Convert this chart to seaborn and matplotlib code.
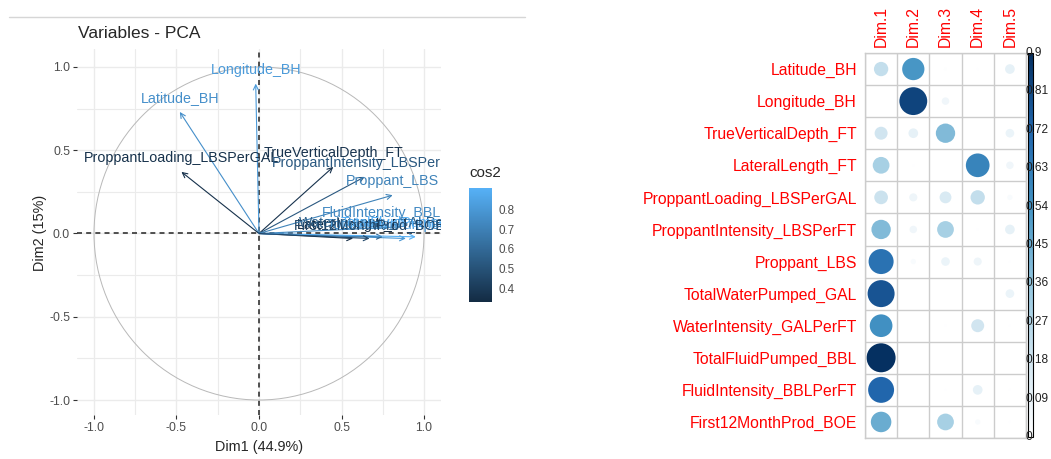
import numpy as np
import pandas as pd
import matplotlib
matplotlib.use("Agg")
import matplotlib.pyplot as plt
import seaborn as sns
from matplotlib.colors import LinearSegmentedColormap, Normalize
from matplotlib.lines import Line2D
from matplotlib.patches import Circle

# variables of the PCA
variables = ["Latitude_BH", "Longitude_BH", "TrueVerticalDepth_FT", "LateralLength_FT",
             "ProppantLoading_LBSPerGAL", "ProppantIntensity_LBSPerFT", "Proppant_LBS",
             "TotalWaterPumped_GAL", "WaterIntensity_GALPerFT", "TotalFluidPumped_BBL",
             "FluidIntensity_BBLPerFT", "First12MonthProd_BOE"]

# coordinates on Dim1 / Dim2 (correlation circle)
dim1_coord = [-0.48, -0.02, 0.45, 0.57, -0.47, 0.64, 0.81, 0.89, 0.75, 0.95, 0.86, 0.67]
dim2_coord = [0.73, 0.90, 0.40, -0.03, 0.37, 0.34, 0.23, -0.03, -0.02, -0.02, 0.04, -0.03]

# cos2 of each variable on the first five dimensions
dims = ["Dim.1", "Dim.2", "Dim.3", "Dim.4", "Dim.5"]
cos2_dim1 = [0.22, 0.00, 0.18, 0.30, 0.20, 0.40, 0.67, 0.78, 0.55, 0.90, 0.72, 0.45]
cos2_dim2 = [0.53, 0.83, 0.10, 0.005, 0.07, 0.06, 0.03, 0.003, 0.003, 0.002, 0.002, 0.002]
cos2_dim3 = [0.01, 0.06, 0.40, 0.0, 0.15, 0.30, 0.08, 0.003, 0.005, 0.002, 0.004, 0.30]
cos2_dim4 = [0.005, 0.003, 0.0, 0.60, 0.22, 0.005, 0.07, 0.0, 0.18, 0.002, 0.10, 0.03]
cos2_dim5 = [0.10, 0.003, 0.08, 0.06, 0.03, 0.10, 0.005, 0.08, 0.005, 0.002, 0.005, 0.005]

cbar_ticks = [0, 0.09, 0.18, 0.27, 0.36, 0.45, 0.54, 0.63, 0.72, 0.81, 0.9]

sns.set_style("white")
plt.rcParams['font.family'] = ['Liberation Sans', 'DejaVu Sans']

W, H = 1051, 459
fig = plt.figure(figsize=(W / 100, H / 100), dpi=100)
fig.patch.set_facecolor("white")

# thin grey rule at the top of the left half
fig.add_artist(Line2D([9 / W, 525 / W], [1 - 17 / H, 1 - 17 / H], color="#d6d6d6", lw=1))

# ---------------- left: correlation circle ----------------
pca_cmap = LinearSegmentedColormap.from_list("gg", ["#132B43", "#56B1F7"])
pc_df = pd.DataFrame({"variable": variables, "Dim1": dim1_coord, "Dim2": dim2_coord})
pc_df["cos2"] = pc_df["Dim1"] ** 2 + pc_df["Dim2"] ** 2
pca_norm = Normalize(0.33, 0.91)

axl = fig.add_axes([77 / W, (H - 415) / H, 364 / W, 366 / H])
axl.set_xlim(-1.103, 1.103)
axl.set_ylim(-1.09, 1.108)
axl.set_xticks([-1, -0.5, 0, 0.5, 1])
axl.set_yticks([-1, -0.5, 0, 0.5, 1])
axl.set_xticks([-0.75, -0.25, 0.25, 0.75], minor=True)
axl.set_yticks([-0.75, -0.25, 0.25, 0.75], minor=True)
axl.set_xticklabels(["-1.0", "-0.5", "0.0", "0.5", "1.0"])
axl.set_yticklabels(["-1.0", "-0.5", "0.0", "0.5", "1.0"])
axl.grid(which="major", color="#ebebeb", lw=1.0)
axl.grid(which="minor", color="#ebebeb", lw=0.8)
axl.set_axisbelow(True)
for s in axl.spines.values():
    s.set_visible(False)
axl.tick_params(which="major", length=3, width=0.8, color="#333333", pad=2,
                labelsize=8.8, labelcolor="#4d4d4d", bottom=True, left=True)
axl.tick_params(which="minor", length=0)

axl.add_patch(Circle((0, 0), 1, fill=False, color="#b8b8b8", lw=0.7))

for _, r in pc_df.iterrows():
    c = pca_cmap(pca_norm(r["cos2"]))
    axl.annotate("", xy=(r["Dim1"], r["Dim2"]), xytext=(0, 0),
                 arrowprops=dict(arrowstyle="->", color=c, lw=0.8, shrinkA=0, shrinkB=0,
                                 mutation_scale=9))
    axl.annotate(r["variable"], xy=(r["Dim1"], r["Dim2"]), xytext=(0, 10),
                 textcoords="offset points", ha="center", va="center", color=c,
                 fontsize=10.3, clip_on=True)

axl.axhline(0, color="#333333", lw=1.2, ls=(0, (3, 2.5)))
axl.axvline(0, color="#333333", lw=1.2, ls=(0, (3, 2.5)))

fig.text(78 / W, 1 - 33 / H, "Variables - PCA", fontsize=12.5, va="center", ha="left")
fig.text(259 / W, 1 - 447 / H, "Dim1 (44.9%)", fontsize=10.4, va="center", ha="center")
fig.text(40 / W, 1 - 233 / H, "Dim2 (15%)", fontsize=10.4, va="center", ha="center",
         rotation=90)

# legend for cos2
fig.text(469 / W, 1 - 173 / H, "cos2", fontsize=10.9, va="center", ha="left")
cax = fig.add_axes([469 / W, (H - 302) / H, 23 / W, 114 / H])
sm = plt.cm.ScalarMappable(norm=pca_norm, cmap=pca_cmap)
cb = fig.colorbar(sm, cax=cax, ticks=[0.4, 0.5, 0.6, 0.7, 0.8])
cb.outline.set_visible(False)
cax.tick_params(direction="in", color="white", length=4, width=0.8, left=True, right=True,
                labelsize=8.4, labelcolor="#4d4d4d", pad=5)

# ---------------- right: cos2 corrplot ----------------
corr_cmap = LinearSegmentedColormap.from_list(
    "rdbu_half", ["#FFFFFF", "#D1E5F0", "#92C5DE", "#4393C3", "#2166AC", "#053061"])

cos2_df = pd.DataFrame({"variable": variables, "Dim.1": cos2_dim1, "Dim.2": cos2_dim2,
                        "Dim.3": cos2_dim3, "Dim.4": cos2_dim4, "Dim.5": cos2_dim5})
long_df = cos2_df.melt(id_vars="variable", var_name="dim", value_name="cos2")

axr = fig.add_axes([865 / W, (H - 438) / H, 161 / W, 385 / H])
sns.scatterplot(data=long_df, x="dim", y="variable", hue="cos2", size="cos2",
                palette=corr_cmap, hue_norm=(0, 0.9), sizes=(0, 436), size_norm=(0, 0.9),
                linewidth=0, legend=False, ax=axr)
axr.set_xlim(-0.5, len(dims) - 0.5)
axr.set_ylim(len(variables) - 0.5, -0.5)
axr.set_xlabel("")
axr.set_ylabel("")
axr.set_xticks(np.arange(len(dims) + 1) - 0.5, minor=True)
axr.set_yticks(np.arange(len(variables) + 1) - 0.5, minor=True)
axr.grid(which="minor", color="#cccccc", lw=1.0)
axr.grid(which="major", visible=False)
for s in axr.spines.values():
    s.set_color("#cccccc")
    s.set_linewidth(1.0)
axr.xaxis.tick_top()
axr.tick_params(axis="x", which="major", length=0, pad=4.3, labelsize=11.3,
                labelcolor="red", labelrotation=90)
axr.tick_params(axis="y", which="major", length=0, pad=5.8, labelsize=11.3, labelcolor="red")
axr.tick_params(which="minor", length=0)

cax2 = fig.add_axes([1028 / W, (H - 437) / H, 5 / W, 384 / H])
sm2 = plt.cm.ScalarMappable(norm=Normalize(0, 0.9), cmap=corr_cmap)
cb2 = fig.colorbar(sm2, cax=cax2, ticks=cbar_ticks)
cb2.outline.set_edgecolor("black")
cb2.outline.set_linewidth(0.8)
cax2.tick_params(length=0, labelright=False, labelleft=False)
for t in cbar_ticks:
    cax2.text(-0.4, t, f"{t:g}", transform=cax2.get_yaxis_transform(), ha="left",
              va="center", fontsize=8.6, color="#222222", zorder=10, clip_on=False)

fig.savefig("out.png", dpi=100)
